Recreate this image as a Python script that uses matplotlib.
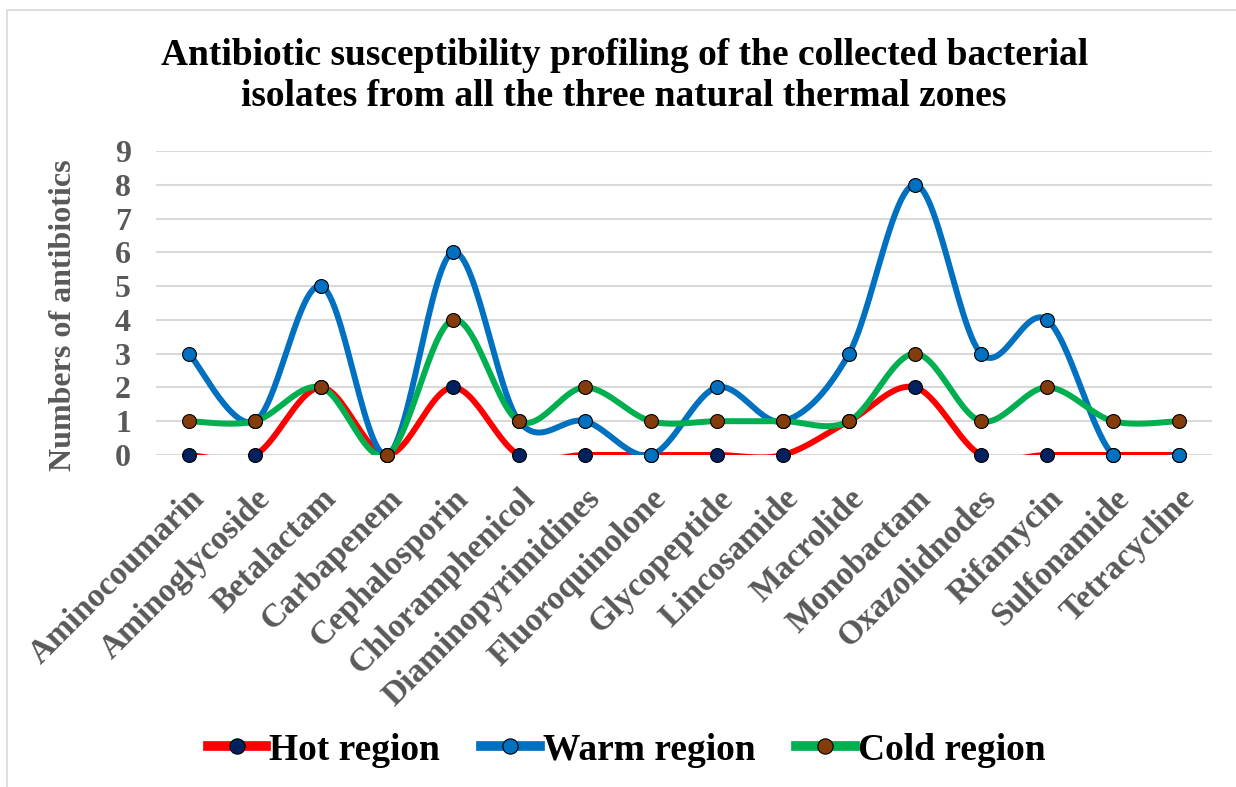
import numpy as np
import matplotlib.pyplot as plt
import matplotlib.transforms as mtransforms
from matplotlib.patches import Rectangle
from matplotlib.lines import Line2D

categories = ["Aminocoumarin", "Aminoglycoside", "Betalactam", "Carbapenem",
              "Cephalosporin", "Chloramphenicol", "Diaminopyrimidines",
              "Fluoroquinolone", "Glycopeptide", "Lincosamide", "Macrolide",
              "Monobactam", "Oxazolidnodes", "Rifamycin", "Sulfonamide",
              "Tetracycline"]
hot = [0, 0, 2, 0, 2, 0, 0, 0, 0, 0, 1, 2, 0, 0, 0, 0]
warm = [3, 1, 5, 0, 6, 1, 1, 0, 2, 1, 3, 8, 3, 4, 0, 0]
cold = [1, 1, 2, 0, 4, 1, 2, 1, 1, 1, 1, 3, 1, 2, 1, 1]
yticks = list(range(0, 10))

series = [
    ("Hot region", hot, "#FF0000", "#002060"),
    ("Warm region", warm, "#0070C0", "#0070C0"),
    ("Cold region", cold, "#00B050", "#843C0C"),
]

plt.rcParams['font.family'] = ['Liberation Serif', 'DejaVu Serif']
plt.rcParams['font.weight'] = 'bold'
GRAY = "#595959"


def smooth(x, y, steps=30):
    # cubic bezier segments with catmull-rom style control points
    x = np.asarray(x, float)
    y = np.asarray(y, float)
    px = np.concatenate([[x[0]], x, [x[-1]]])
    py = np.concatenate([[y[0]], y, [y[-1]]])
    t = np.linspace(0, 1, steps)
    xs, ys = [], []
    for i in range(1, len(px) - 2):
        p0 = np.array([px[i], py[i]])
        p3 = np.array([px[i + 1], py[i + 1]])
        c1 = p0 + (np.array([px[i + 1], py[i + 1]]) - np.array([px[i - 1], py[i - 1]])) / 6
        c2 = p3 - (np.array([px[i + 2], py[i + 2]]) - p0) / 6
        b = ((1 - t) ** 3)[:, None] * p0 + (3 * (1 - t) ** 2 * t)[:, None] * c1 \
            + (3 * (1 - t) * t ** 2)[:, None] * c2 + (t ** 3)[:, None] * p3
        xs.append(b[:, 0])
        ys.append(b[:, 1])
    return np.concatenate(xs), np.concatenate(ys)


fig = plt.figure(figsize=(12.36, 7.87), dpi=100)
# chart frame, its right and bottom edges sit just outside the canvas
fig.patches.append(Rectangle((7 / 1236, -10 / 787), 1240 / 1236, 787 / 787,
                             transform=fig.transFigure, fill=False,
                             edgecolor="#d9d9d9", linewidth=1.2))
ax = fig.add_axes([0.1262, 0.4219, 0.8544, 0.3862])

xpos = np.arange(len(categories))
handles = []
for name, vals, lc, mc in series:
    sx, sy = smooth(xpos, vals)
    # curves are cut at the plot floor, markers are not
    ax.plot(sx, sy, color=lc, linewidth=4.3, solid_capstyle='round', zorder=3)
    ax.plot(xpos, vals, linestyle='none', marker='o', markersize=10,
            markerfacecolor=mc, markeredgecolor='black', markeredgewidth=0.8,
            zorder=4, clip_on=False)
    handles.append(Line2D([], [], color=lc, linewidth=7, marker='o',
                          markersize=11, markerfacecolor=mc,
                          markeredgecolor='black', markeredgewidth=0.8,
                          label=name))

ax.set_xlim(-0.5, len(categories) - 0.5)
ax.set_ylim(0, 9)
ax.set_yticks(yticks)
ax.set_yticklabels([str(v) for v in yticks], fontsize=23, color=GRAY,
                   fontweight='bold')
ax.set_xticks(xpos)
ax.set_xticklabels(categories, rotation=45, ha='right', va='top',
                   rotation_mode='anchor', fontsize=24, color=GRAY,
                   fontweight='bold')
shift = mtransforms.ScaledTranslation(-8 / 72, 0, fig.dpi_scale_trans)
for lbl in ax.get_xticklabels():
    lbl.set_transform(lbl.get_transform() + shift)
ax.tick_params(axis='x', length=0, pad=20)
ax.tick_params(axis='y', length=0, pad=18)
ax.grid(axis='y', color='#d9d9d9', linewidth=1.5, zorder=0)
ax.set_axisbelow(True)
for s in ax.spines.values():
    s.set_visible(False)

ax.set_ylabel("Numbers of antibiotics", fontsize=23, color=GRAY,
              fontweight='bold')
ax.yaxis.set_label_coords(-0.074, 0.46)

fig.text(0.505, 0.952, "Antibiotic susceptibility profiling of the collected bacterial\n"
         "isolates from all the three natural thermal zones",
         ha='center', va='top', fontsize=27, fontweight='bold',
         linespacing=1.22)

fig.legend(handles=handles, loc='center', bbox_to_anchor=(0.507, 0.047),
           ncol=3, frameon=False, fontsize=27, handlelength=1.55,
           handletextpad=0.08, columnspacing=1.1)

fig.savefig("out.png", dpi=100)
